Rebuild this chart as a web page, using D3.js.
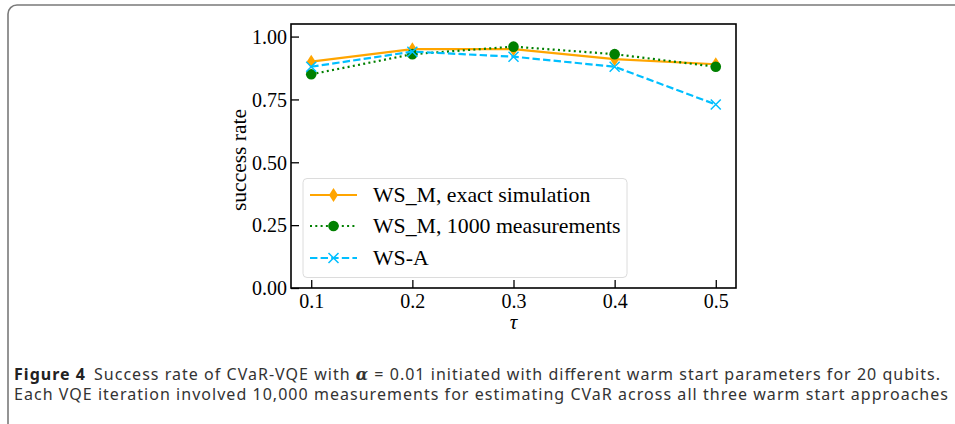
<!DOCTYPE html>
<html>
<head>
<meta charset="utf-8">
<script src="https://cdn.jsdelivr.net/npm/d3@7"></script>
<style>
  body { margin: 0; background: #fff; }
  svg { display: block; }
</style>
</head>
<body>
<div id="chart"></div>
<script>
// values
const tau = [0.1, 0.2, 0.3, 0.4, 0.5];
const wsmExact = [0.90, 0.95, 0.95, 0.91, 0.89];
const wsm1000 = [0.85, 0.93, 0.96, 0.93, 0.88];
const wsA = [0.88, 0.94, 0.92, 0.88, 0.73];
const seriesNames = ['WS_M, exact simulation', 'WS_M, 1000 measurements', 'WS-A'];
const xTicks = [0.1, 0.2, 0.3, 0.4, 0.5];
const yTicks = [0, 0.25, 0.5, 0.75, 1.0];

const W = 955, H = 424;
const svg = d3.select('#chart').append('svg').attr('width', W).attr('height', H);

// outer frame (rounded, open to the right and bottom)
svg.append('rect')
    .attr('x', 8).attr('y', 5)
    .attr('width', 1000).attr('height', 430)
    .attr('rx', 9)
    .attr('fill', 'none')
    .attr('stroke', '#7a7a7a')
    .attr('stroke-width', 1.6);

const pL = 291, pR = 736, pT = 24, pB = 288;
const x = d3.scaleLinear().domain([0.08, 0.52]).range([pL, pR]);
const y = d3.scaleLinear().domain([0, 1.05]).range([pB, pT]);

const serif = 'Liberation Serif, serif';

// axes, ticks pointing inward
const xAxis = d3.axisBottom(x).tickValues(xTicks).tickFormat(d3.format('.1f')).tickSizeInner(-8).tickSizeOuter(0).tickPadding(6);
const yAxis = d3.axisLeft(y).tickValues(yTicks).tickFormat(d3.format('.2f')).tickSizeInner(-8).tickSizeOuter(0).tickPadding(4);

const gx = svg.append('g').attr('transform', `translate(0,${pB})`).call(xAxis);
const gy = svg.append('g').attr('transform', `translate(${pL},0)`).call(yAxis);
[gx, gy].forEach((g) => {
    g.select('.domain').remove();
    g.selectAll('.tick line').attr('stroke', '#000').attr('stroke-width', 1.3);
    g.selectAll('.tick text').attr('fill', '#000').style('font-family', serif).style('font-size', '20px');
});
gy.selectAll('.tick text').attr('dy', '0.34em');

// frame of the plot
svg.append('rect')
    .attr('x', pL).attr('y', pT)
    .attr('width', pR - pL).attr('height', pB - pT)
    .attr('fill', 'none').attr('stroke', '#000').attr('stroke-width', 1.6);

svg.append('text')
    .attr('x', (pL + pR) / 2).attr('y', 329)
    .attr('text-anchor', 'middle')
    .style('font-family', serif).style('font-size', '21px').style('font-style', 'italic')
    .text('τ');

svg.append('text')
    .attr('transform', `translate(246,${(pT + pB) / 2 + 4}) rotate(-90)`)
    .attr('text-anchor', 'middle')
    .style('font-family', serif).style('font-size', '21.5px')
    .text('success rate');

const series = [
    { name: seriesNames[0], values: wsmExact, color: 'orange', dash: null, marker: 'diamond' },
    { name: seriesNames[1], values: wsm1000, color: 'green', dash: '2,3.3', marker: 'circle' },
    { name: seriesNames[2], values: wsA, color: '#00bfff', dash: '7.4,3.2', marker: 'x' }
];

const line = d3.line().x((d) => x(d[0])).y((d) => y(d[1]));

const drawMarker = (g, kind, color, cx, cy) => {
    if (kind === 'diamond') {
        g.append('path')
            .attr('d', `M${cx},${cy - 7}L${cx + 4.5},${cy}L${cx},${cy + 7}L${cx - 4.5},${cy}Z`)
            .attr('fill', color);
    } else if (kind === 'circle') {
        g.append('circle').attr('cx', cx).attr('cy', cy).attr('r', 5.3).attr('fill', color);
    } else {
        const s = 5;
        g.append('path')
            .attr('d', `M${cx - s},${cy - s}L${cx + s},${cy + s}M${cx - s},${cy + s}L${cx + s},${cy - s}`)
            .attr('stroke', color).attr('stroke-width', 1.5).attr('fill', 'none');
    }
};

series.forEach((s) => {
    const pts = tau.map((t, i) => [t, s.values[i]]);
    const g = svg.append('g');
    g.append('path')
        .attr('d', line(pts))
        .attr('fill', 'none')
        .attr('stroke', s.color)
        .attr('stroke-width', 2.2)
        .attr('stroke-dasharray', s.dash);
    pts.forEach((p) => drawMarker(g, s.marker, s.color, x(p[0]), y(p[1])));
});

// legend
const lg = svg.append('g');
lg.append('rect')
    .attr('x', 303).attr('y', 178.5)
    .attr('width', 324).attr('height', 99)
    .attr('rx', 4)
    .attr('fill', 'rgba(255,255,255,0.8)')
    .attr('stroke', '#dcdcdc').attr('stroke-width', 1);
const rowY = [195, 226, 258];
series.forEach((s, i) => {
    const ly = rowY[i];
    lg.append('line')
        .attr('x1', 310).attr('x2', 357).attr('y1', ly).attr('y2', ly)
        .attr('stroke', s.color).attr('stroke-width', 2.2)
        .attr('stroke-dasharray', s.dash);
    drawMarker(lg, s.marker, s.color, 333.5, ly);
    lg.append('text')
        .attr('x', 373).attr('y', ly).attr('dy', '0.33em')
        .style('font-family', serif).style('font-size', '21.8px')
        .text(s.name);
});

// caption
const cap = svg.append('g').style('font-family', 'Noto Sans, sans-serif').style('font-size', '16px').attr('fill', '#333');
const l1 = cap.append('text').attr('x', 14).attr('y', 380)
    .attr('textLength', 926).attr('lengthAdjust', 'spacing');
l1.append('tspan').style('font-weight', 'bold').attr('fill', '#222').text('Figure 4');
l1.append('tspan').attr('dx', 8).text('Success rate of CVaR-VQE with ');
l1.append('tspan').style('font-weight', 'bold').style('font-style', 'italic').style('font-family', 'DejaVu Serif, serif').text('α');
l1.append('tspan').text(' = 0.01 initiated with different warm start parameters for 20 qubits.');
cap.append('text').attr('x', 14).attr('y', 400)
    .attr('textLength', 934).attr('lengthAdjust', 'spacing')
    .text('Each VQE iteration involved 10,000 measurements for estimating CVaR across all three warm start approaches');
</script>
</body>
</html>
